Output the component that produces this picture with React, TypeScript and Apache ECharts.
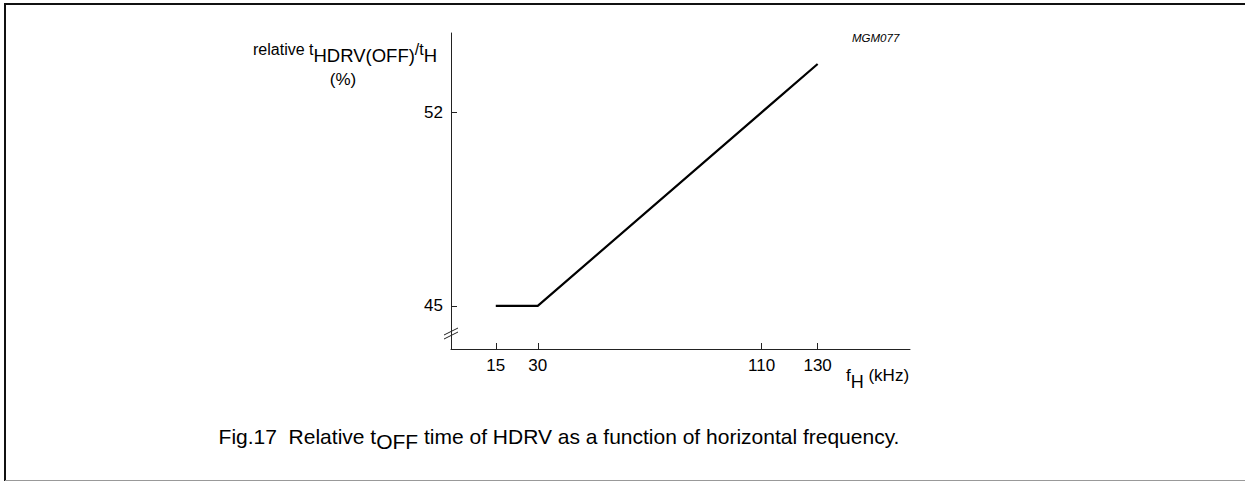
import React, { useEffect, useRef } from 'react';
import * as echarts from 'echarts';

// Data
const freqKHz = [15, 30, 110, 130];
const relTimePct = [45, 45, 52, 53.75];
const xTickValues = [15, 30, 110, 130];
const yTickValues = [45, 52];
const xRange = [-1, 163];
const yRange = [43.44, 54.87];

const FONT = '"Liberation Sans", Arial, Helvetica, sans-serif';

type Piece = { text: string; size: number; dy: number; italic?: boolean };

export default function App() {
  const ref = useRef<HTMLDivElement>(null);
  useEffect(() => {
    const el = ref.current!;
    const chart = echarts.init(el, null, { renderer: 'svg' });
    const canvas = document.createElement('canvas');
    const ctx = canvas.getContext('2d')!;
    const mw = (t: string, size: number, italic = false) => {
      ctx.font = `${italic ? 'italic ' : ''}${size}px ${FONT}`;
      return ctx.measureText(t).width;
    };
    // a run of text pieces sharing a baseline, with offsets for subscripts
    const run = (pieces: Piece[], x0: number, baseline: number, center = false) => {
      const widths = pieces.map((p) => mw(p.text, p.size, p.italic));
      const total = widths.reduce((a, b) => a + b, 0);
      let x = center ? x0 - total / 2 : x0;
      const out: any[] = [];
      pieces.forEach((p, i) => {
        out.push({
          type: 'text',
          x,
          y: baseline + p.dy - 0.3465 * p.size,
          style: {
            text: p.text,
            fontSize: p.size,
            fontFamily: FONT,
            fontStyle: p.italic ? 'italic' : 'normal',
            fill: '#000',
            align: 'left',
            verticalAlign: 'middle',
          },
        });
        x += widths[i];
      });
      return out;
    };

    const graphics: any[] = [
      // frame
      { type: 'line', shape: { x1: 5, y1: 4, x2: 5, y2: 481 }, style: { stroke: '#111', lineWidth: 2 } },
      { type: 'line', shape: { x1: 4, y1: 4, x2: 1245, y2: 4 }, style: { stroke: '#111', lineWidth: 2 } },
      { type: 'line', shape: { x1: 5, y1: 480.5, x2: 1245, y2: 480.5 }, style: { stroke: '#999', lineWidth: 1 } },
      // axis break marks
      { type: 'line', shape: { x1: 444, y1: 339, x2: 458, y2: 332 }, style: { stroke: '#222', lineWidth: 1 } },
      { type: 'line', shape: { x1: 444, y1: 335, x2: 458, y2: 328 }, style: { stroke: '#222', lineWidth: 1 } },
      // y-axis name
      ...run(
        [
          { text: 'relative t', size: 16, dy: 0 },
          { text: 'HDRV(OFF)', size: 18.5, dy: 7 },
          { text: '/t', size: 16, dy: 0 },
          { text: 'H', size: 18.5, dy: 7 },
        ],
        253,
        55
      ),
      ...run([{ text: '(%)', size: 17, dy: 0 }], 343, 85, true),
      // x-axis name
      ...run(
        [
          { text: 'f', size: 17, dy: 0 },
          { text: 'H', size: 18, dy: 7 },
          { text: ' (kHz)', size: 17, dy: 0 },
        ],
        846,
        381
      ),
      // figure code
      ...run([{ text: 'MGM077', size: 11.5, dy: 0, italic: true }], 852, 42),
      // caption
      ...run(
        [
          { text: 'Fig.17\u00a0 Relative t', size: 21, dy: 0 },
          { text: 'OFF', size: 21, dy: 5 },
          { text: ' time of HDRV as a function of horizontal frequency.', size: 21, dy: 0 },
        ],
        559,
        444,
        true
      ),
    ];

    chart.setOption({
      animation: false,
      backgroundColor: '#fff',
      grid: { left: 451, top: 33, width: 459, height: 316, containLabel: false },
      xAxis: {
        type: 'value',
        min: xRange[0],
        max: xRange[1],
        splitLine: { show: false },
        axisLine: { show: true, onZero: false, lineStyle: { color: '#222', width: 1 } },
        axisTick: { show: true, inside: true, length: 6, customValues: xTickValues, lineStyle: { color: '#222' } },
        axisLabel: { customValues: xTickValues, fontSize: 17, fontFamily: FONT, color: '#000', margin: 8 },
      },
      yAxis: {
        type: 'value',
        min: yRange[0],
        max: yRange[1],
        splitLine: { show: false },
        axisLine: { show: true, onZero: false, lineStyle: { color: '#222', width: 1 } },
        axisTick: { show: true, inside: true, length: 6, customValues: yTickValues, lineStyle: { color: '#222' } },
        axisLabel: { customValues: yTickValues, fontSize: 17, fontFamily: FONT, color: '#000', margin: 8 },
      },
      series: [
        {
          type: 'line',
          data: freqKHz.map((x, i) => [x, relTimePct[i]]),
          showSymbol: false,
          clip: false,
          lineStyle: { color: '#000', width: 2.2 },
        },
      ],
      graphic: graphics,
    });
    return () => chart.dispose();
  }, []);
  return (
    <div
      ref={ref}
      style={{ position: 'fixed', left: 0, top: 0, width: 1245, height: 481, background: '#fff' }}
    />
  );
}
